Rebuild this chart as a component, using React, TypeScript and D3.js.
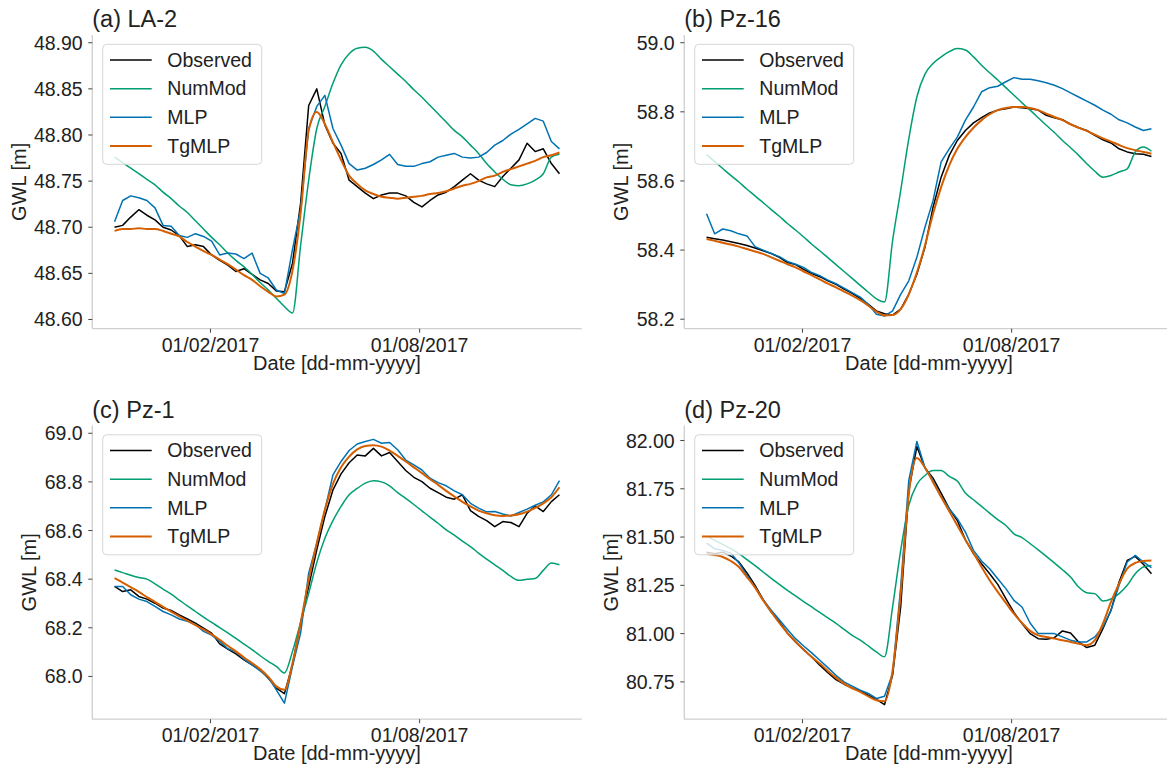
import React, { useRef, useEffect } from 'react';
import * as d3 from 'd3';

// weekly samples, 10 Nov 2016 -> 30 Nov 2017
const sampleDates = d3.timeDay.range(new Date(2016, 10, 10), new Date(2017, 11, 1), 7);
const xTickDates = [new Date(2017, 1, 1), new Date(2017, 7, 1)];

const seriesNames = ['Observed', 'NumMod', 'MLP', 'TgMLP'];
const seriesColors = ['#000000', '#009E73', '#0072B2', '#D55E00'];

// (a) LA-2
const laObserved = [48.700, 48.702, 48.711, 48.719, 48.713, 48.708, 48.700, 48.697, 48.691, 48.679,
  48.681, 48.679, 48.670, 48.664, 48.659, 48.652, 48.655, 48.649, 48.643, 48.639,
  48.631, 48.630, 48.661, 48.726, 48.832, 48.850, 48.811, 48.791, 48.780, 48.751,
  48.744, 48.737, 48.731, 48.735, 48.737, 48.737, 48.734, 48.727, 48.722, 48.729,
  48.735, 48.738, 48.744, 48.751, 48.758, 48.751, 48.747, 48.744, 48.755, 48.764,
  48.773, 48.791, 48.782, 48.785, 48.769, 48.758];
const laNumMod = [48.776, 48.770, 48.764, 48.758, 48.752, 48.746, 48.738, 48.731, 48.723, 48.716,
  48.707, 48.698, 48.689, 48.681, 48.672, 48.664, 48.657, 48.649, 48.640, 48.632,
  48.623, 48.614, 48.607, 48.680, 48.751, 48.807, 48.831, 48.856, 48.876, 48.888,
  48.894, 48.895, 48.891, 48.882, 48.874, 48.866, 48.858, 48.849, 48.841, 48.832,
  48.823, 48.814, 48.805, 48.798, 48.789, 48.780, 48.769, 48.760, 48.752, 48.746,
  48.745, 48.747, 48.751, 48.758, 48.776, 48.779];
const laMlp = [48.706, 48.729, 48.734, 48.732, 48.729, 48.721, 48.702, 48.701, 48.691, 48.689,
  48.693, 48.690, 48.685, 48.670, 48.672, 48.671, 48.666, 48.672, 48.650, 48.645,
  48.632, 48.628, 48.676, 48.719, 48.807, 48.831, 48.843, 48.807, 48.789, 48.769,
  48.762, 48.764, 48.768, 48.773, 48.779, 48.768, 48.766, 48.766, 48.769, 48.771,
  48.776, 48.778, 48.780, 48.776, 48.775, 48.776, 48.781, 48.789, 48.794, 48.801,
  48.806, 48.812, 48.818, 48.815, 48.793, 48.785];
const laTgMlp = [48.696, 48.698, 48.698, 48.699, 48.698, 48.698, 48.696, 48.693, 48.690, 48.684,
  48.679, 48.674, 48.670, 48.665, 48.660, 48.654, 48.648, 48.643, 48.636, 48.630,
  48.625, 48.627, 48.653, 48.715, 48.805, 48.825, 48.812, 48.792, 48.773, 48.756,
  48.747, 48.740, 48.736, 48.733, 48.732, 48.731, 48.732, 48.733, 48.734, 48.736,
  48.737, 48.739, 48.742, 48.745, 48.747, 48.750, 48.754, 48.756, 48.760, 48.763,
  48.766, 48.769, 48.772, 48.776, 48.778, 48.781];

// (b) Pz-16
const pz16Observed = [58.437, 58.433, 58.429, 58.424, 58.419, 58.413, 58.406, 58.398, 58.390, 58.379,
  58.364, 58.358, 58.344, 58.332, 58.323, 58.311, 58.301, 58.287, 58.275, 58.260,
  58.243, 58.224, 58.216, 58.212, 58.229, 58.272, 58.330, 58.408, 58.524, 58.611,
  58.674, 58.717, 58.746, 58.768, 58.783, 58.797, 58.805, 58.809, 58.814, 58.812,
  58.809, 58.805, 58.790, 58.783, 58.777, 58.764, 58.754, 58.746, 58.732, 58.719,
  58.710, 58.693, 58.684, 58.679, 58.677, 58.671];
const pz16NumMod = [58.676, 58.656, 58.636, 58.616, 58.597, 58.576, 58.557, 58.537, 58.517, 58.498,
  58.477, 58.458, 58.438, 58.417, 58.398, 58.378, 58.358, 58.338, 58.318, 58.298,
  58.278, 58.259, 58.250, 58.427, 58.572, 58.722, 58.843, 58.909, 58.940, 58.959,
  58.974, 58.983, 58.979, 58.959, 58.935, 58.913, 58.892, 58.870, 58.848, 58.826,
  58.805, 58.783, 58.761, 58.740, 58.717, 58.696, 58.674, 58.650, 58.628, 58.611,
  58.616, 58.626, 58.635, 58.684, 58.698, 58.686];
const pz16Mlp = [58.505, 58.447, 58.461, 58.456, 58.447, 58.441, 58.410, 58.400, 58.390, 58.381,
  58.367, 58.359, 58.350, 58.335, 58.326, 58.313, 58.303, 58.290, 58.277, 58.264,
  58.243, 58.214, 58.209, 58.224, 58.272, 58.311, 58.379, 58.466, 58.543, 58.655,
  58.693, 58.727, 58.776, 58.814, 58.858, 58.870, 58.874, 58.887, 58.899, 58.894,
  58.894, 58.890, 58.884, 58.877, 58.867, 58.855, 58.843, 58.831, 58.819, 58.805,
  58.793, 58.777, 58.768, 58.756, 58.746, 58.751];
const pz16TgMlp = [58.432, 58.427, 58.421, 58.416, 58.410, 58.403, 58.396, 58.389, 58.379, 58.369,
  58.359, 58.350, 58.338, 58.327, 58.315, 58.303, 58.292, 58.280, 58.268, 58.255,
  58.239, 58.222, 58.211, 58.212, 58.229, 58.272, 58.335, 58.413, 58.505, 58.582,
  58.645, 58.693, 58.727, 58.754, 58.776, 58.793, 58.805, 58.811, 58.814, 58.814,
  58.811, 58.805, 58.795, 58.785, 58.776, 58.764, 58.754, 58.745, 58.734, 58.723,
  58.714, 58.704, 58.695, 58.689, 58.684, 58.679];

// (c) Pz-1
const pz1Observed = [68.370, 68.349, 68.356, 68.329, 68.318, 68.301, 68.281, 68.271, 68.253, 68.236,
  68.219, 68.199, 68.178, 68.134, 68.112, 68.093, 68.068, 68.047, 68.027, 67.993,
  67.952, 67.929, 68.048, 68.219, 68.370, 68.521, 68.658, 68.767, 68.833, 68.879,
  68.911, 68.907, 68.938, 68.907, 68.921, 68.884, 68.847, 68.819, 68.801, 68.774,
  68.756, 68.737, 68.729, 68.747, 68.682, 68.658, 68.641, 68.616, 68.637, 68.633,
  68.616, 68.671, 68.701, 68.678, 68.719, 68.747];
const pz1NumMod = [68.438, 68.427, 68.416, 68.407, 68.400, 68.381, 68.359, 68.338, 68.314, 68.290,
  68.267, 68.244, 68.222, 68.201, 68.179, 68.156, 68.133, 68.110, 68.085, 68.062,
  68.041, 68.014, 68.103, 68.222, 68.342, 68.468, 68.568, 68.641, 68.699, 68.747,
  68.773, 68.795, 68.805, 68.800, 68.784, 68.756, 68.732, 68.707, 68.681, 68.655,
  68.630, 68.603, 68.581, 68.556, 68.534, 68.507, 68.482, 68.459, 68.436, 68.411,
  68.395, 68.400, 68.403, 68.436, 68.466, 68.459];
const pz1Mlp = [68.370, 68.370, 68.336, 68.318, 68.308, 68.288, 68.267, 68.253, 68.236, 68.227,
  68.214, 68.185, 68.170, 68.145, 68.114, 68.101, 68.071, 68.047, 68.023, 67.997,
  67.945, 67.890, 68.041, 68.178, 68.425, 68.548, 68.685, 68.829, 68.884, 68.929,
  68.956, 68.966, 68.975, 68.959, 68.962, 68.932, 68.890, 68.870, 68.849, 68.815,
  68.797, 68.784, 68.763, 68.747, 68.712, 68.692, 68.677, 68.678, 68.668, 68.660,
  68.674, 68.688, 68.704, 68.718, 68.747, 68.805];
const pz1TgMlp = [68.404, 68.386, 68.367, 68.348, 68.326, 68.307, 68.286, 68.266, 68.247, 68.229,
  68.211, 68.193, 68.173, 68.151, 68.126, 68.103, 68.078, 68.055, 68.030, 67.999,
  67.959, 67.945, 68.055, 68.219, 68.397, 68.548, 68.685, 68.792, 68.860, 68.904,
  68.934, 68.948, 68.951, 68.945, 68.929, 68.907, 68.884, 68.860, 68.836, 68.811,
  68.788, 68.763, 68.740, 68.718, 68.699, 68.682, 68.671, 68.663, 68.660, 68.662,
  68.667, 68.678, 68.693, 68.712, 68.737, 68.778];

// (d) Pz-20
const pz20Observed = [81.422, 81.414, 81.422, 81.402, 81.371, 81.314, 81.250, 81.176, 81.112, 81.060,
  81.003, 80.957, 80.917, 80.879, 80.836, 80.798, 80.762, 80.738, 80.719, 80.703,
  80.681, 80.659, 80.632, 80.785, 81.138, 81.741, 81.969, 81.859, 81.805, 81.728,
  81.647, 81.586, 81.486, 81.414, 81.362, 81.310, 81.255, 81.181, 81.110, 81.052,
  81.000, 80.974, 80.971, 80.979, 81.014, 81.003, 80.957, 80.928, 80.940, 81.026,
  81.121, 81.267, 81.379, 81.400, 81.359, 81.310];
const pz20NumMod = [81.505, 81.483, 81.462, 81.440, 81.414, 81.383, 81.352, 81.319, 81.286, 81.255,
  81.224, 81.195, 81.166, 81.138, 81.110, 81.081, 81.053, 81.022, 80.991, 80.966,
  80.936, 80.905, 80.880, 81.138, 81.431, 81.664, 81.772, 81.819, 81.845, 81.845,
  81.814, 81.790, 81.728, 81.693, 81.659, 81.624, 81.590, 81.560, 81.517, 81.497,
  81.466, 81.434, 81.400, 81.366, 81.331, 81.293, 81.241, 81.212, 81.207, 81.169,
  81.179, 81.207, 81.250, 81.310, 81.345, 81.353];
const pz20Mlp = [81.469, 81.440, 81.431, 81.417, 81.366, 81.302, 81.241, 81.176, 81.121, 81.072,
  81.021, 80.974, 80.936, 80.900, 80.862, 80.824, 80.784, 80.750, 80.728, 80.707,
  80.690, 80.664, 80.676, 80.793, 81.241, 81.793, 81.995, 81.859, 81.793, 81.710,
  81.647, 81.595, 81.526, 81.431, 81.376, 81.336, 81.284, 81.233, 81.172, 81.138,
  81.055, 81.000, 81.000, 81.000, 80.983, 80.966, 80.957, 80.957, 80.983, 81.034,
  81.121, 81.250, 81.371, 81.405, 81.371, 81.341];
const pz20TgMlp = [81.414, 81.407, 81.397, 81.376, 81.345, 81.293, 81.238, 81.172, 81.112, 81.055,
  81.003, 80.959, 80.917, 80.879, 80.845, 80.807, 80.772, 80.741, 80.717, 80.698,
  80.675, 80.655, 80.650, 80.810, 81.207, 81.724, 81.910, 81.859, 81.784, 81.707,
  81.634, 81.560, 81.486, 81.417, 81.345, 81.276, 81.216, 81.159, 81.103, 81.055,
  81.014, 80.991, 80.983, 80.974, 80.966, 80.957, 80.948, 80.940, 80.966, 81.052,
  81.164, 81.259, 81.336, 81.366, 81.376, 81.379];

const yTicksA = [48.60, 48.65, 48.70, 48.75, 48.80, 48.85, 48.90];
const yTicksB = [58.2, 58.4, 58.6, 58.8, 59.0];
const yTicksC = [68.0, 68.2, 68.4, 68.6, 68.8, 69.0];
const yTicksD = [80.75, 81.00, 81.25, 81.50, 81.75, 82.00];

const panels = [
  { title: '(a) LA-2', col: 0, row: 0, series: [laObserved, laNumMod, laMlp, laTgMlp], yDomain: [48.590, 48.9084], yTicks: yTicksA, fmt: '.2f' },
  { title: '(b) Pz-16', col: 1, row: 0, series: [pz16Observed, pz16NumMod, pz16Mlp, pz16TgMlp], yDomain: [58.1725, 59.0223], yTicks: yTicksB, fmt: '.1f' },
  { title: '(c) Pz-1', col: 0, row: 1, series: [pz1Observed, pz1NumMod, pz1Mlp, pz1TgMlp], yDomain: [67.824, 69.032], yTicks: yTicksC, fmt: '.1f' },
  { title: '(d) Pz-20', col: 1, row: 1, series: [pz20Observed, pz20NumMod, pz20Mlp, pz20TgMlp], yDomain: [80.5568, 82.0777], yTicks: yTicksD, fmt: '.2f' },
];

const W = 1167;
const H = 772;
const colLeft = [92.3, 684.3];
const rowTop = [35, 425.5];
const plotW = 489.4;
const plotH = 293.7;
const FONT = '"Liberation Sans", Arial, Helvetica, sans-serif';

const App = () => {
  const svgRef = useRef<SVGSVGElement>(null);

  useEffect(() => {
    const svg = d3.select(svgRef.current);
    svg.selectAll('*').remove();

    const t0 = sampleDates[0].getTime();
    const t1 = sampleDates[sampleDates.length - 1].getTime();
    const pad = 0.05 * (t1 - t0);
    const xDomain = [new Date(t0 - pad), new Date(t1 + pad)];
    const fmtDate = d3.timeFormat('%d/%m/%Y');

    panels.forEach(p => {
      const left = colLeft[p.col];
      const top = rowTop[p.row];
      const bottom = top + plotH;
      const x = d3.scaleTime().domain(xDomain).range([left, left + plotW]);
      const y = d3.scaleLinear().domain(p.yDomain).range([bottom, top]);
      const g = svg.append('g').attr('font-family', FONT);

      // spines
      g.append('line').attr('x1', left).attr('x2', left).attr('y1', top).attr('y2', bottom)
        .attr('stroke', '#cfcfcf').attr('stroke-width', 1.3);
      g.append('line').attr('x1', left).attr('x2', left + plotW).attr('y1', bottom).attr('y2', bottom)
        .attr('stroke', '#cfcfcf').attr('stroke-width', 1.3);

      // y ticks
      const yf = d3.format(p.fmt);
      p.yTicks.forEach(t => {
        g.append('line').attr('x1', left - 4).attr('x2', left).attr('y1', y(t)).attr('y2', y(t))
          .attr('stroke', '#444').attr('stroke-width', 1);
        g.append('text').attr('x', left - 9.6).attr('y', y(t)).attr('dy', '0.36em')
          .attr('text-anchor', 'end').attr('font-size', 19.5).attr('fill', '#222').text(yf(t));
      });

      // x ticks
      xTickDates.forEach(d => {
        g.append('line').attr('x1', x(d)).attr('x2', x(d)).attr('y1', bottom).attr('y2', bottom + 4)
          .attr('stroke', '#444').attr('stroke-width', 1);
        g.append('text').attr('x', x(d)).attr('y', bottom + 23.2)
          .attr('text-anchor', 'middle').attr('font-size', 19.5).attr('fill', '#222').text(fmtDate(d));
      });

      // axis labels
      g.append('text').attr('x', left + plotW / 2).attr('y', bottom + 41)
        .attr('text-anchor', 'middle').attr('font-size', 20).attr('fill', '#222').text('Date [dd-mm-yyyy]');
      const labelGap = p.fmt === '.2f' ? 66.8 : 56.5;
      g.append('text')
        .attr('transform', `translate(${left - labelGap}, ${top + plotH / 2}) rotate(-90)`)
        .attr('text-anchor', 'middle').attr('font-size', 20).attr('fill', '#222').text('GWL [m]');

      // title
      g.append('text').attr('x', left).attr('y', top - 8)
        .attr('font-size', 23.5).attr('fill', '#222').text(p.title);

      // lines
      p.series.forEach((vals, si) => {
        const line = d3.line<number>()
          .x((d, i) => x(sampleDates[i]))
          .y(d => y(d))
          .curve(si === 1 || si === 3 ? d3.curveMonotoneX : d3.curveLinear);
        g.append('path').datum(vals)
          .attr('d', line)
          .attr('fill', 'none')
          .attr('stroke', seriesColors[si])
          .attr('stroke-width', si === 3 ? 2 : 1.5)
          .attr('stroke-linejoin', 'round');
      });

      // legend
      const lx = left + 10.4;
      const ly = top + 9.3;
      const lg = g.append('g');
      lg.append('rect').attr('x', lx).attr('y', ly).attr('width', 159).attr('height', 120)
        .attr('rx', 4).attr('fill', '#fff').attr('fill-opacity', 0.8)
        .attr('stroke', '#d6d6d6').attr('stroke-width', 1);
      seriesNames.forEach((name, i) => {
        const cy = ly + 15.7 + i * 28.67;
        lg.append('line').attr('x1', lx + 7.3).attr('x2', lx + 49).attr('y1', cy).attr('y2', cy)
          .attr('stroke', seriesColors[i]).attr('stroke-width', i === 3 ? 2 : 1.5);
        lg.append('text').attr('x', lx + 64.6).attr('y', cy).attr('dy', '0.35em')
          .attr('font-size', 19.5).attr('fill', '#222').text(name);
      });
    });
  }, []);

  return (
    <svg ref={svgRef} width={W} height={H}
      style={{ position: 'absolute', left: 0, top: 0, background: '#fff' }} />
  );
};

export default App;
